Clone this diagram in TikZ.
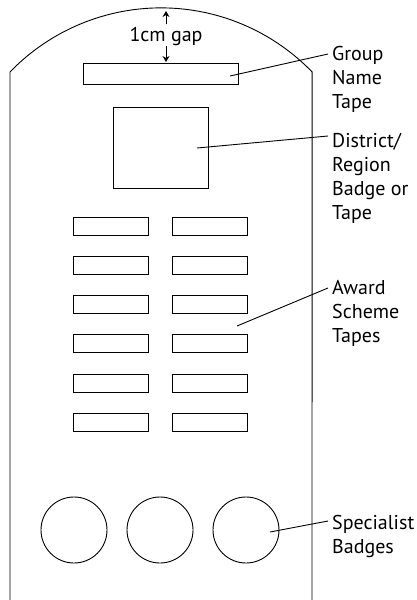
\documentclass[tikz,border=0pt]{standalone}
\usepackage{fontspec}
\setmainfont{PT Sans}
\usetikzlibrary{arrows.meta}
\begin{document}
\begin{tikzpicture}[x=1pt,y=-1pt,
  outline/.style={draw=black,line width=0.9pt},
  tape/.style={outline,rectangle,inner sep=0pt,minimum width=75pt,minimum height=18pt},
  badge/.style={outline,circle,inner sep=0pt,minimum size=66pt},
  lbl/.style={anchor=north west,inner sep=0pt,align=left,font=\fontsize{20}{24}\selectfont},
  leader/.style={draw=black,line width=0.9pt},
  gaparrow/.style={draw=black,line width=1pt,-{Stealth[length=6pt,width=7pt]}}]
\useasboundingbox (0,0) rectangle (417,600);
% sleeve outline
\draw[outline] (10,600) -- (10,72) arc[start angle=-136,end angle=-44,radius=210] -- (312,600);
% group name tape
\node[outline,rectangle,inner sep=0pt,minimum width=155pt,minimum height=21pt] (group) at (160.5,73.5) {};
% district badge
\node[outline,rectangle,inner sep=0pt,minimum width=95pt,minimum height=81pt] (district) at (160.5,147.5) {};
% award tapes
\foreach \i in {0,...,5}{
  \node[tape] (tl\i) at (110.5,{226+39.3*\i}) {};
  \node[tape] (tr\i) at (210,{226+39.3*\i}) {};
}
% specialist badges
\node[badge] (b1) at (74,530) {};
\node[badge] (b2) at (160,530) {};
\node[badge] (b3) at (246,530) {};
% gap
\node[anchor=base,inner sep=0pt,font=\fontsize{20}{24}\selectfont] (gap) at (166,41) {1cm gap};
\coordinate (gaptop) at (166,11);
\coordinate (gapbot) at (166,62);
\draw[gaparrow] (166,24) -- (gaptop);
\draw[gaparrow] (166,46) -- (gapbot);
% labels
\node[lbl] (lgroup) at (332,46.5) {Group\\Name\\Tape};
\node[lbl] (ldistrict) at (332,133.5) {District/\\Region\\Badge or\\Tape};
\node[lbl] (laward) at (332,280.5) {Award\\Scheme\\Tapes};
\node[lbl] (lspec) at (332,515.5) {Specialist\\Badges};
% leaders
\coordinate (sg) at (230,76);
\coordinate (eg) at (328,54);
\coordinate (sd) at (197,148);
\coordinate (ed) at (328,136);
\coordinate (sa) at (237,326);
\coordinate (ea) at (328,288);
\coordinate (ss) at (270,532);
\coordinate (es) at (328,521);
\draw[leader] (sg) -- (eg);
\draw[leader] (sd) -- (ed);
\draw[leader] (sa) -- (ea);
\draw[leader] (ss) -- (es);
\end{tikzpicture}
\end{document}
